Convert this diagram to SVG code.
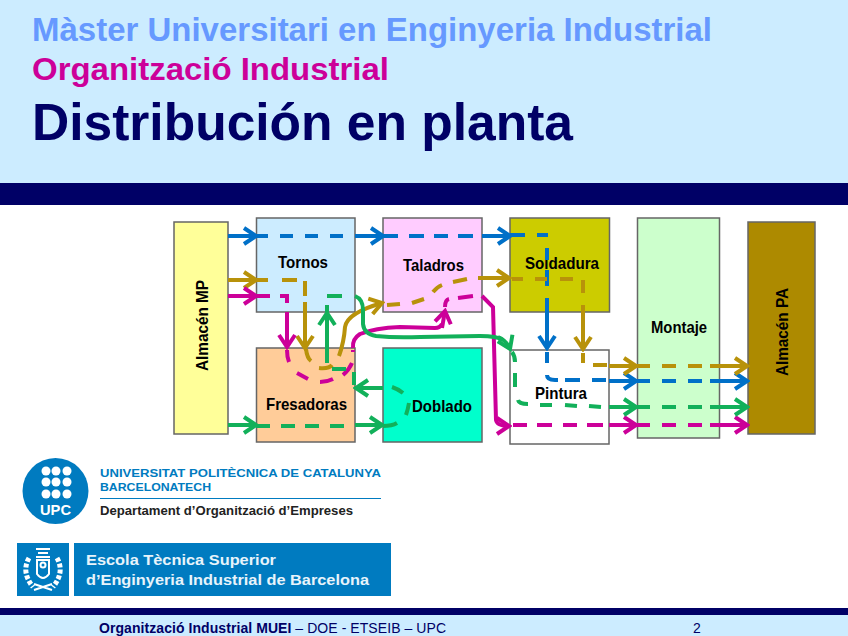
<svg xmlns="http://www.w3.org/2000/svg" width="848" height="636" viewBox="0 0 848 636">
<style>
text{font-family:"Liberation Sans",Arial,sans-serif}
.n{stroke:#666;stroke-width:1.5}
.l{font-weight:bold;font-size:17px;fill:#000}
.c{fill:none;stroke-width:4}
.b{stroke:#0070C8}.g{stroke:#B8920A}.m{stroke:#CC0099}.e{stroke:#12B05A}
.bs{marker-end:url(#ab)}.gs{marker-end:url(#ag)}.ms{marker-end:url(#am)}.es{marker-end:url(#ae)}
.w{fill:#E8F4FB;font-size:15px;font-weight:bold}
.u{fill:#007BC0;font-size:11px;font-weight:bold}
</style>
<defs>
<marker id="ab" markerUnits="userSpaceOnUse" viewBox="-15 -10 18 20" refX="0" refY="0" markerWidth="18" markerHeight="20" orient="auto"><path d="M-12-8L0 0L-12 8" fill="none" stroke="#0070C8" stroke-width="4"/></marker>
<marker id="ag" markerUnits="userSpaceOnUse" viewBox="-15 -10 18 20" refX="0" refY="0" markerWidth="18" markerHeight="20" orient="auto"><path d="M-12-8L0 0L-12 8" fill="none" stroke="#B8920A" stroke-width="4"/></marker>
<marker id="am" markerUnits="userSpaceOnUse" viewBox="-15 -10 18 20" refX="0" refY="0" markerWidth="18" markerHeight="20" orient="auto"><path d="M-12-8L0 0L-12 8" fill="none" stroke="#CC0099" stroke-width="4"/></marker>
<marker id="ae" markerUnits="userSpaceOnUse" viewBox="-15 -10 18 20" refX="0" refY="0" markerWidth="18" markerHeight="20" orient="auto"><path d="M-12-8L0 0L-12 8" fill="none" stroke="#12B05A" stroke-width="4"/></marker>
</defs>
<rect width="848" height="636" fill="#fff"/>
<rect width="848" height="183" fill="#CCECFF"/>
<rect y="183" width="848" height="22" fill="#000066"/>
<rect y="608" width="848" height="7" fill="#000066"/>
<rect y="615" width="848" height="21" fill="#CCECFF"/>
<text x="32" y="41" font-size="33" font-weight="bold" fill="#6699FF" textLength="680" lengthAdjust="spacingAndGlyphs">Màster Universitari en Enginyeria Industrial</text>
<text x="32" y="80" font-size="32" font-weight="bold" fill="#CC0099" textLength="357" lengthAdjust="spacingAndGlyphs">Organització Industrial</text>
<text x="32" y="140" font-size="52" font-weight="bold" fill="#000066" textLength="541" lengthAdjust="spacingAndGlyphs">Distribución en planta</text>

<g id="almacen-mp"><rect class="n" x="174" y="222" width="54" height="212" fill="#FFFF99"/><text class="l" transform="translate(207.500 371) rotate(-90)" textLength="91" lengthAdjust="spacingAndGlyphs">Almacén MP</text></g>
<g id="tornos"><rect class="n" x="256.500" y="218" width="98.500" height="94" fill="#CCECFF"/><text class="l" x="278" y="268" textLength="50" lengthAdjust="spacingAndGlyphs">Tornos</text></g>
<g id="taladros"><rect class="n" x="383" y="218" width="99" height="94" fill="#FFCCFF"/><text class="l" x="403" y="270.500" textLength="61" lengthAdjust="spacingAndGlyphs">Taladros</text></g>
<g id="soldadura"><rect class="n" x="510" y="218" width="99.500" height="94" fill="#CCCC00"/><text class="l" x="525" y="269" textLength="74" lengthAdjust="spacingAndGlyphs">Soldadura</text></g>
<g id="montaje"><rect class="n" x="637.500" y="218" width="82" height="220" fill="#CCFFCC"/><text class="l" x="651" y="333" textLength="56" lengthAdjust="spacingAndGlyphs">Montaje</text></g>
<g id="almacen-pa"><rect class="n" x="748" y="222" width="67" height="212" fill="#AD8A00"/><text class="l" transform="translate(788 376) rotate(-90)" textLength="88" lengthAdjust="spacingAndGlyphs">Almacén PA</text></g>
<g id="fresadoras"><rect class="n" x="256.500" y="348" width="98.500" height="94" fill="#FFCC99"/><text class="l" x="266" y="410" textLength="81" lengthAdjust="spacingAndGlyphs">Fresadoras</text></g>
<g id="doblado"><rect class="n" x="383" y="348" width="99" height="94" fill="#00FFCC"/><text class="l" x="412" y="412" textLength="60" lengthAdjust="spacingAndGlyphs">Doblado</text></g>
<g id="pintura"><rect class="n" x="510" y="350" width="99" height="94" fill="#fff"/><text class="l" x="535" y="399" textLength="52" lengthAdjust="spacingAndGlyphs">Pintura</text></g>

<g id="connectors">
<!-- blue -->
<path class="c b bs" d="M228 236H256"/>
<path class="c b" d="M256 236H268M280 236H293M305 236H318M330 236H343"/>
<path class="c b bs" d="M355 236H383"/>
<path class="c b" d="M384 236H398M409 236H424M434 236H448M458 236H473"/>
<path class="c b bs" d="M482 236H510"/>
<path class="c b" d="M510 235H525M537 235H548M547 248V260M547 270V286"/>
<path class="c b bs" d="M547 298V348"/>
<path class="c b" d="M547 352V363M547 375Q547 380 555 380H558M565 380H580M592 380H606"/>
<path class="c b bs" d="M609 381H636"/>
<path class="c b" d="M637 381H650M662 381H676M688 381H702M710 381H720"/>
<path class="c b bs" d="M720 381H747"/>
<!-- gold -->
<path class="c g gs" d="M228 280H256"/>
<path class="c g" d="M256 280H268M282 280H297M305 281V296M305 302V312"/>
<path class="c g gs" d="M305 312V348"/>
<path class="c g" d="M306 349Q307 358 311 361M319 368Q329 369 332 365"/>
<path class="c g gs" d="M339 356Q344 342 345 327Q347 313 382 303"/>
<path class="c g" d="M387 305L400 304M412 303L424 299M433 292Q437 287 442 285M453 282L467 279"/>
<path class="c g gs" d="M478 278H509"/>
<path class="c g" d="M512 279H523M535 279H547M560 279H573M583 280V293"/>
<path class="c g gs" d="M583 305V349"/>
<path class="c g" d="M583 353V363M593 365H607"/>
<path class="c g gs" d="M609 366H636"/>
<path class="c g" d="M637 366H650M662 366H676M688 366H702M710 366H720"/>
<path class="c g gs" d="M720 366H747"/>
<!-- magenta -->
<path class="c m ms" d="M228 296H256"/>
<path class="c m" d="M256 296H270M280 296H287V303"/>
<path class="c m" d="M287 312V330"/><path class="c m ms" d="M287 312V347"/>
<path class="c m" d="M287 350Q287 357 289 362M297 373L308 379M320 382Q327 382 333 379M343 375Q349 370 352 363M353 352V350"/>
<path class="c m" d="M353 348Q352 339 360 334Q375 328 400 327L435 328Q440 328 442 324"/>
<path class="c m ms" d="M442 328L445 311"/>
<path class="c m" d="M445 307Q445 300 449 299M458 298L473 296"/>
<path class="c m ms" d="M482 296L493 307L496 420Q497 426 509 426"/>
<path class="c m" d="M513 425H527M537 425H552M563 425H577M587 425H603"/>
<path class="c m ms" d="M609 425H636"/>
<path class="c m" d="M637 425H650M662 425H676M688 425H702M710 425H720"/>
<path class="c m ms" d="M720 425H747"/>
<!-- green -->
<path class="c e es" d="M228 425H256"/>
<path class="c e" d="M256 426H270M281 426H295M305 426H319M330 426H344"/>
<path class="c e es" d="M355 425H382"/>
<path class="c e" d="M383 426Q392 426 397 423M406 415Q408 409 409 403M403 393Q398 389 392 387"/>
<path class="c e es" d="M383 388H356"/>
<path class="c e" d="M354 385V372M346 369H332"/>
<path class="c e es" d="M327 363V313"/>
<path class="c e" d="M327 312V305M327 296H342"/>
<path class="c e" d="M355 296Q363 299 363 310V324Q364 334 376 336Q395 338 420 337L480 336Q497 336 503 340"/>
<path class="c e es" d="M498 337Q506 340 510 349"/>
<path class="c e" d="M512 352Q515 356 515 362M515 373V387M518 400Q519 404 528 404M540 405H552M565 405L577 406M589 406L601 407"/>
<path class="c e es" d="M609 407H636"/>
<path class="c e" d="M637 407H650M662 407H676M688 407H702M710 407H720"/>
<path class="c e es" d="M720 407H747"/>
</g>

<g id="upc-logo">
<circle cx="55.500" cy="491" r="33" fill="#007BC0"/>
<g fill="#fff"><circle cx="46" cy="471" r="4.500"/><circle cx="56" cy="471" r="4.500"/><circle cx="67" cy="471" r="4.500"/><circle cx="46" cy="482" r="4.500"/><circle cx="56" cy="482" r="4.500"/><circle cx="67" cy="482" r="4.500"/><circle cx="46" cy="494" r="4.500"/><circle cx="56" cy="494" r="4.500"/><circle cx="67" cy="494" r="4.500"/></g>
<text x="40" y="515" font-size="14" font-weight="bold" fill="#fff" textLength="31" lengthAdjust="spacingAndGlyphs">UPC</text>
<text class="u" x="100" y="477" textLength="281" lengthAdjust="spacingAndGlyphs">UNIVERSITAT POLITÈCNICA DE CATALUNYA</text>
<text class="u" x="100" y="491" textLength="111" lengthAdjust="spacingAndGlyphs">BARCELONATECH</text>
<rect x="100" y="498" width="281" height="1" fill="#007BC0"/>
<text x="100" y="515" font-size="12" font-weight="bold" fill="#222" textLength="253" lengthAdjust="spacingAndGlyphs">Departament d’Organització d’Empreses</text>
</g>
<g id="etseib-logo">
<rect x="17" y="543" width="52" height="53" fill="#007BC0"/>
<rect x="74" y="543" width="317" height="53" fill="#007BC0"/>
<g fill="none" stroke="#fff" stroke-width="2">
<path d="M36 549H50M38 553H48M36 557H50"/>
<path d="M29 558Q21 572 33 587M57 558Q65 572 53 587" stroke-dasharray="4 2" stroke-width="5"/>
<path d="M37 560H49V574Q43 582 37 574Z"/>
<circle cx="43" cy="565" r="2.500"/>
<path d="M34 590L52 584M34 584L52 590"/>
</g>
<text class="w" x="86" y="565" textLength="190" lengthAdjust="spacingAndGlyphs">Escola Tècnica Superior</text>
<text class="w" x="86" y="585" textLength="283" lengthAdjust="spacingAndGlyphs">d’Enginyeria Industrial de Barcelona</text>
</g>
<text x="99" y="633" font-size="14" fill="#000066" textLength="347" lengthAdjust="spacing"><tspan font-weight="bold">Organització Industrial MUEI</tspan> – DOE - ETSEIB – UPC</text>
<text x="693" y="633" font-size="14" fill="#000066">2</text>
</svg>
